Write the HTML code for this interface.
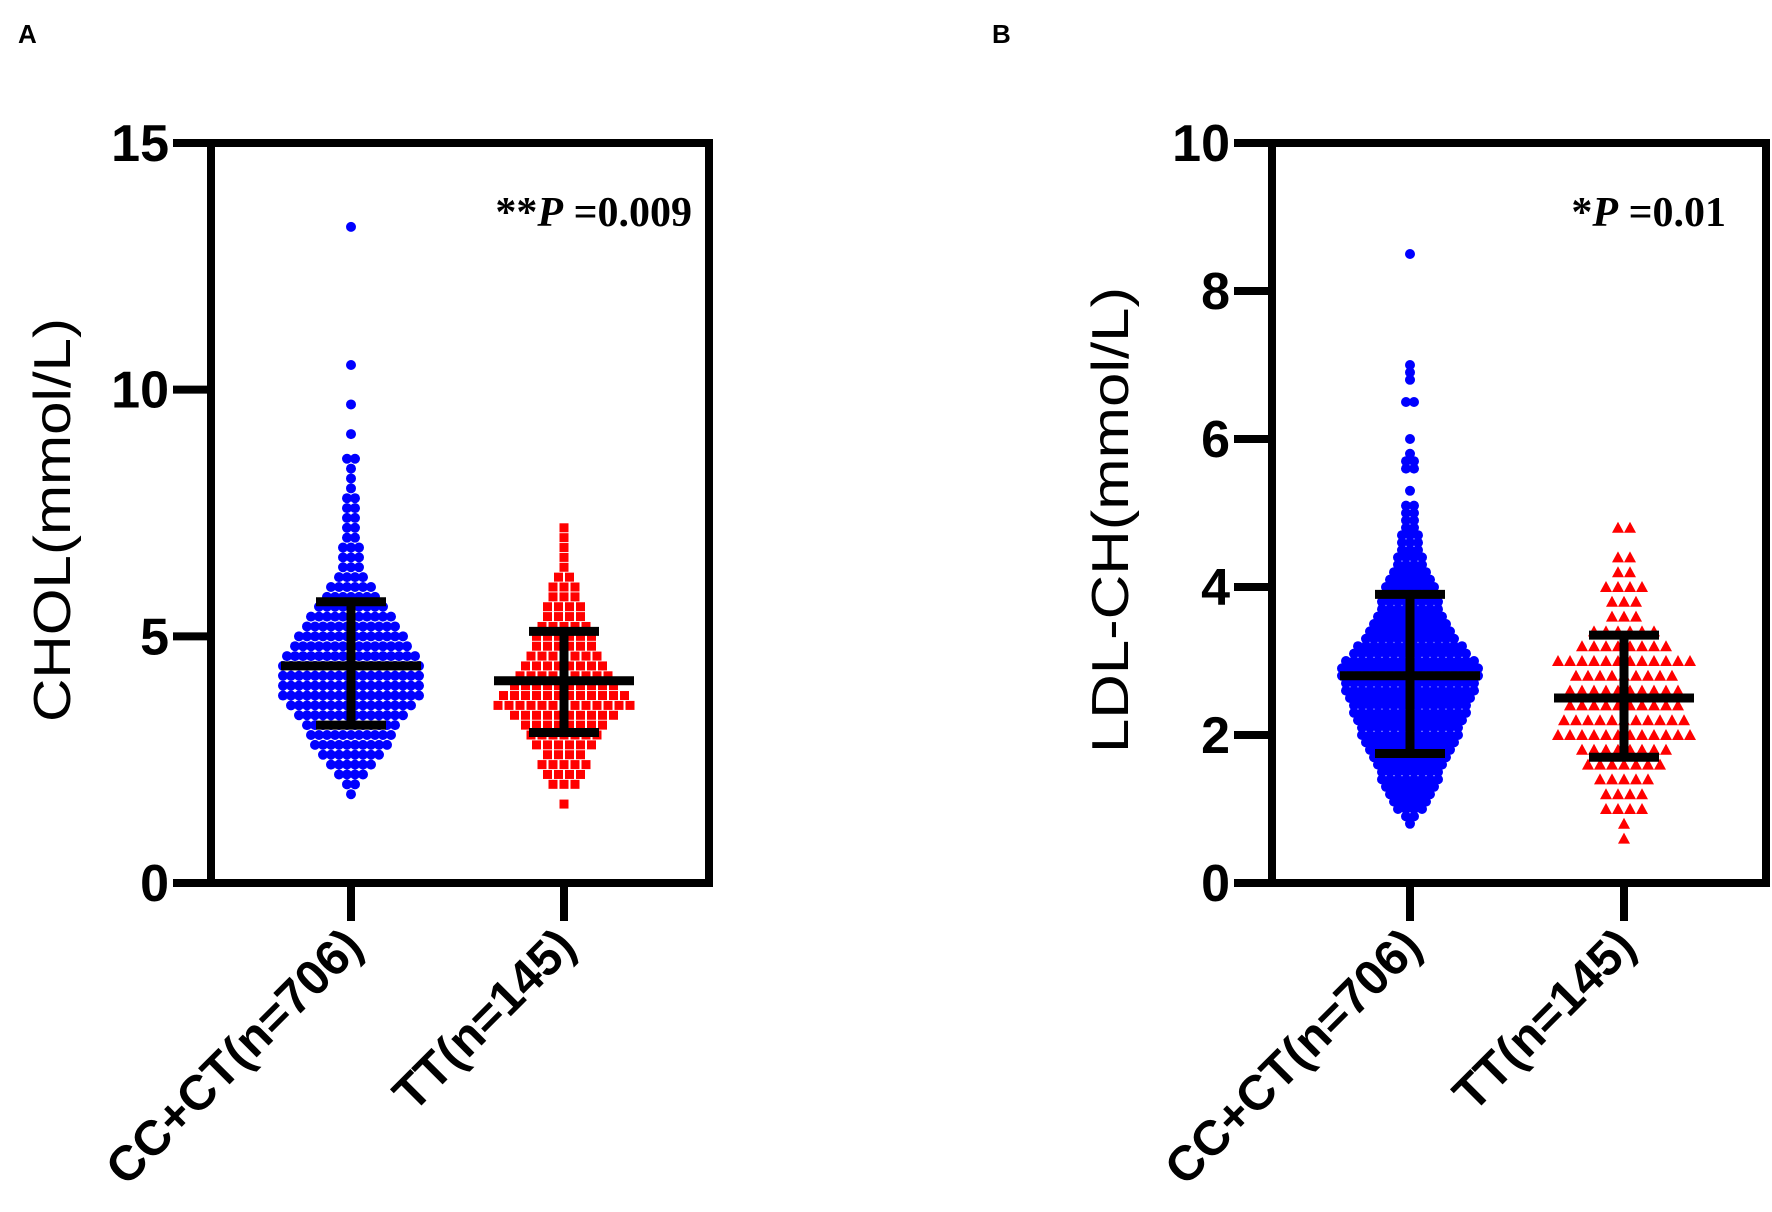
<!DOCTYPE html>
<html><head><meta charset="utf-8"><style>
html,body{margin:0;padding:0;background:#fff;}
svg{display:block;}
</style></head><body>
<svg id="fig" width="1772" height="1212" viewBox="0 0 1772 1212" xmlns="http://www.w3.org/2000/svg">
<g id="root"></g>
</svg>
<script>
// ---- Panel A data (CHOL) ----
const aCategories = ["CC+CT(n=706)", "TT(n=145)"];
const aTicks = [0, 5, 10, 15];
const aBlueBins = [1.8,2.0,2.2,2.4,2.6,2.8,3.0,3.2,3.4,3.6,3.8,4.0,4.2,4.4,4.6,4.8,5.0,5.2,5.4,5.6,5.8,6.0,6.2,6.4,6.6,6.8,7.0,7.2,7.4,7.6,7.8,8.0,8.2,8.4,8.6,9.1,9.7,10.5,13.3];
const aBlueCounts = [1,2,4,6,8,10,11,12,14,16,18,18,18,18,17,15,14,12,11,9,7,6,4,3,3,3,2,2,2,2,2,1,1,1,2,1,1,1,1];
const aRedBins = [1.6,2.0,2.2,2.4,2.6,2.8,3.0,3.2,3.4,3.6,3.8,4.0,4.2,4.4,4.6,4.8,5.0,5.2,5.4,5.6,5.8,6.0,6.2,6.4,6.6,6.8,7.0,7.2];
const aRedCounts = [1,3,4,5,4,6,7,8,10,13,12,10,9,8,7,6,6,5,4,4,3,3,2,1,1,1,1,1];
const aMeans = [4.4, 4.1];
const aUpper = [5.7, 5.1];
const aLower = [3.2, 3.05];
// ---- Panel B data (LDL-CH) ----
const bCategories = ["CC+CT(n=706)", "TT(n=145)"];
const bTicks = [0, 2, 4, 6, 8, 10];
const bBlueBins = [0.8,0.9,1.0,1.1,1.2,1.3,1.4,1.5,1.6,1.7,1.8,1.9,2.0,2.1,2.2,2.3,2.4,2.5,2.6,2.7,2.8,2.9,3.0,3.1,3.2,3.3,3.4,3.5,3.6,3.7,3.8,3.9,4.0,4.1,4.2,4.3,4.4,4.5,4.6,4.7,4.8,4.9,5.0,5.1,5.3,5.6,5.7,5.8,6.0,6.5,6.8,6.9,7.0,8.5];
const bBlueCounts = [1,2,4,5,6,7,8,8,9,10,11,12,13,13,14,15,15,16,17,17,18,18,17,15,14,12,11,10,9,8,8,7,7,6,5,4,4,3,3,3,2,2,2,2,1,2,2,1,1,2,1,1,1,1];
const bRedBins = [0.6,0.8,1.0,1.2,1.4,1.6,1.8,2.0,2.2,2.4,2.6,2.8,3.0,3.2,3.4,3.6,3.8,4.0,4.2,4.4,4.8];
const bRedCounts = [1,1,4,4,5,7,8,12,11,10,10,9,12,8,6,3,3,4,2,2,2];
const bMeans = [2.8, 2.5];
const bUpper = [3.9, 3.35];
const bLower = [1.75, 1.7];

const NS = "http://www.w3.org/2000/svg";
const root = document.getElementById("root");
function mk(tag, attrs, parent) {
  const e = document.createElementNS(NS, tag);
  for (const k in attrs) e.setAttribute(k, attrs[k]);
  (parent || root).appendChild(e);
  return e;
}

function panel(cfg) {
  const g = mk("g", {});
  
  
  const yS = v => cfg.y0 - (v - cfg.min) / (cfg.max - cfg.min) * (cfg.y0 - cfg.y1);
  const L = mk("text", {x: cfg.letterX, y: 43, "font-family": "Liberation Sans, sans-serif", "font-weight": "bold", "font-size": 26}, g);
  L.textContent = cfg.letter;
  
  
  function swarm(bins, counts, cx, spacing, shape, color, nm) {
    const sg = mk("g", {fill: color}, g);
    
    
    for (let b = 0; b < bins.length; b++) {
      const n = counts[b];
      const y = yS(bins[b]);
      for (let i = 0; i < n; i++) {
        const x = cx + (i - (n - 1) / 2) * spacing;
        let m;
        if (shape === "circle") m = mk("circle", {cx: x, cy: y, r: 5}, sg);
        else if (shape === "square") m = mk("rect", {x: x - 4.5, y: y - 4.5, width: 9, height: 9}, sg);
        else m = mk("polygon", {points: `${x},${y-6} ${x+6},${y+5} ${x-6},${y+5}`}, sg);
        
        
      }
    }
  }
  swarm(cfg.blueBins, cfg.blueCounts, cfg.cx[0], 8, "circle", "#0000ff", "swarm-cc-ct");
  swarm(cfg.redBins, cfg.redCounts, cfg.cx[1], cfg.redSpacing, cfg.redShape, "#ff0000", "swarm-tt");
  for (let k = 0; k < 2; k++) {
    const eg = mk("g", {stroke: "#000", "stroke-width": 9}, g);
    
    
    const cx = cfg.cx[k];
    mk("line", {x1: cx, x2: cx, y1: yS(cfg.upper[k]), y2: yS(cfg.lower[k])}, eg);
    mk("line", {x1: cx - 70, x2: cx + 70, y1: yS(cfg.means[k]), y2: yS(cfg.means[k])}, eg);
    mk("line", {x1: cx - 35, x2: cx + 35, y1: yS(cfg.upper[k]), y2: yS(cfg.upper[k])}, eg);
    mk("line", {x1: cx - 35, x2: cx + 35, y1: yS(cfg.lower[k]), y2: yS(cfg.lower[k])}, eg);
  }
  const fr = mk("rect", {x: cfg.x0, y: cfg.y1, width: cfg.x1 - cfg.x0, height: cfg.y0 - cfg.y1, fill: "none", stroke: "#000", "stroke-width": 8}, g);
  
  
  for (const t of cfg.ticks) {
    const y = yS(t);
    const tl = mk("line", {x1: cfg.x0 - 38, x2: cfg.x0, y1: y, y2: y, stroke: "#000", "stroke-width": 8}, g);
    
    
    const tx = mk("text", {x: cfg.x0 - 42, y: y + 18, "text-anchor": "end", "font-family": "Liberation Sans, sans-serif", "font-weight": "bold", "font-size": 52}, g);
    tx.textContent = t;
    
    
  }
  for (let k = 0; k < 2; k++) {
    const cx = cfg.cx[k];
    const xl = mk("line", {x1: cx, x2: cx, y1: cfg.y0, y2: cfg.y0 + 38, stroke: "#000", "stroke-width": 8}, g);
    
    
    const ax = cx + 14, ay = cfg.y0 + 66;
    const tx = mk("text", {x: ax, y: ay, "text-anchor": "end", transform: `rotate(-45 ${ax} ${ay})`, "font-family": "Liberation Sans, sans-serif", "font-weight": "bold", "font-size": 49}, g);
    tx.textContent = cfg.cats[k];
    
    
  }
  const yt = mk("text", {x: cfg.titleX, y: 520, "text-anchor": "middle", transform: `rotate(-90 ${cfg.titleX} 520)`, "font-family": "Liberation Sans, sans-serif", "font-size": 52, textLength: cfg.titleLen, lengthAdjust: "spacingAndGlyphs"}, g);
  yt.textContent = cfg.title;
  
  
  const pt = mk("text", {x: cfg.pX, y: 226, "text-anchor": "end", "font-family": "Liberation Serif, serif", "font-weight": "bold", "font-size": 42}, g);
  const s1 = mk("tspan", {}, pt); s1.textContent = cfg.stars;
  const s2 = mk("tspan", {"font-style": "italic"}, pt); s2.textContent = "P";
  const s3 = mk("tspan", {}, pt); s3.textContent = " =" + cfg.pval;
  
  
}

panel({name: "panel-a-chol", letter: "A", letterX: 18, x0: 211, x1: 709, y0: 883, y1: 143, min: 0, max: 15,
  ticks: aTicks, cats: aCategories, cx: [351, 564],
  blueBins: aBlueBins, blueCounts: aBlueCounts, redBins: aRedBins, redCounts: aRedCounts, redShape: "square", redSpacing: 11,
  means: aMeans, upper: aUpper, lower: aLower,
  title: "CHOL(mmol/L)", titleX: 70, titleLen: 404, stars: "**", pval: "0.009", pX: 692});
panel({name: "panel-b-ldl", letter: "B", letterX: 992, x0: 1272, x1: 1766, y0: 883, y1: 143, min: 0, max: 10,
  ticks: bTicks, cats: bCategories, cx: [1410, 1624],
  blueBins: bBlueBins, blueCounts: bBlueCounts, redBins: bRedBins, redCounts: bRedCounts, redShape: "triangle", redSpacing: 12,
  means: bMeans, upper: bUpper, lower: bLower,
  title: "LDL-CH(mmol/L)", titleX: 1128, titleLen: 466, stars: "*", pval: "0.01", pX: 1726});
</script>
</body></html>
